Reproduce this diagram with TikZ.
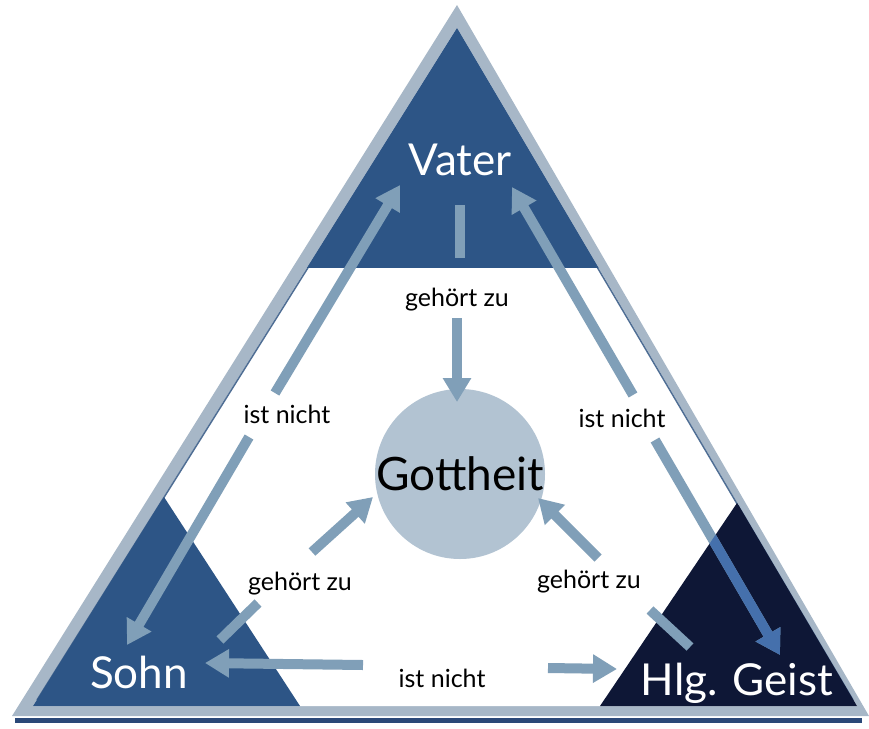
\documentclass[tikz,border=0pt]{standalone}
\usepackage{fontspec}
\setmainfont{Lato}
\usetikzlibrary{arrows.meta}
\definecolor{band}{HTML}{A7B7C7}
\definecolor{bandedge}{HTML}{4F6E94}
\definecolor{darkblue}{HTML}{2D5586}
\definecolor{navy}{HTML}{0E1736}
\definecolor{circ}{HTML}{B2C3D2}
\definecolor{arrowc}{HTML}{809FB8}
\definecolor{arrowblue}{HTML}{4570AC}
\definecolor{shadowc}{HTML}{2A4878}
\begin{document}
\begin{tikzpicture}[x=1pt,y=-1pt,
  conn/.style={draw=arrowc, line width=10pt},
  tip/.style={-{Triangle[width=27pt,length=24pt]}},
  tipback/.style={{Triangle[width=27pt,length=24pt]}-},
  title/.style={text=white, font=\fontsize{44}{48}\selectfont, inner sep=0pt, anchor=base},
  lab/.style={font=\fontsize{25}{28}\selectfont, inner sep=0pt, text=black, anchor=base},
]
\useasboundingbox (0,0) rectangle (869,728);
% frame
\fill[shadowc] (15,718) rectangle (862,723);
\fill[band] (457,5) -- (12,716) -- (869,716) -- cycle;
\fill[white] (457,28) -- (33,706) -- (857,706) -- cycle;
\draw[bandedge, line width=1.5pt] (37,700) -- (457,30) -- (853,700);
% dark corner regions
\begin{scope}
  \clip (457,28) -- (33,706) -- (857,706) -- cycle;
  \fill[darkblue] (0,0) rectangle (869,268);
  \fill[darkblue] (20,706) -- (164,497) -- (300,706) -- cycle;
  \fill[navy] (600,706) -- (737,503) -- (880,706) -- cycle;
\end{scope}
% circle
\node[circle, fill=circ, minimum size=170pt, inner sep=0pt] (gott) at (460,474) {};
\node[font=\fontsize{46}{50}\selectfont, inner sep=0pt, anchor=base] (gtext) at (460,490) {Gottheit};
% titles
\node[title] (vater) at (460,175) {Vater};
\node[title] (sohn) at (139,688) {Sohn};
\node[title] (geist) at (737,695) {Hlg. Geist};
% labels
\node[lab] (gzV) at (457,306) {gehört zu};
\node[lab] (gzS) at (300,590) {gehört zu};
\node[lab] (gzG) at (589,588) {gehört zu};
\node[lab] (inL) at (287,423) {ist nicht};
\node[lab] (inR) at (622,427) {ist nicht};
\node[lab] (inB) at (442,687) {ist nicht};
% coordinates
\coordinate (v0) at (460,205); \coordinate (v1) at (460,258);
\coordinate (v2) at (457,318); \coordinate (gtop) at (457,402);
\coordinate (s0) at (220,640); \coordinate (s1) at (258,603);
\coordinate (s2) at (312,552); \coordinate (gleft) at (373,497);
\coordinate (h0) at (690,647); \coordinate (h1) at (650,610);
\coordinate (h2) at (598,558); \coordinate (gright) at (538,498);
\coordinate (vL) at (400,185); \coordinate (lA) at (275,393);
\coordinate (lB) at (249,437); \coordinate (sTop) at (127,645);
\coordinate (vR) at (512,187); \coordinate (rA) at (633,395);
\coordinate (rB) at (655,440); \coordinate (hTop) at (780,655);
\coordinate (sRight) at (205,663); \coordinate (bA) at (363,665);
\coordinate (bB) at (548,668); \coordinate (hLeft) at (617,669);
% gehört zu arrows
\draw[conn] (v0) -- (v1);
\draw[conn,tip] (v2) -- (gtop);
\draw[conn] (s0) -- (s1);
\draw[conn,tip] (s2) -- (gleft);
\draw[conn] (h0) -- (h1);
\draw[conn,tip] (h2) -- (gright);
% ist nicht arrows
\draw[conn,tipback] (vL) -- (lA);
\draw[conn,tip] (lB) -- (sTop);
\draw[conn,tipback] (vR) -- (rA);
\draw[conn,tip] (rB) -- (hTop);
\draw[conn,tipback] (sRight) -- (bA);
\draw[conn,tip] (bB) -- (hLeft);
\begin{scope}
  \clip (600,706) -- (737,503) -- (880,706) -- cycle;
  \draw[conn,tip,draw=arrowblue,fill=arrowblue] (rB) -- (hTop);
\end{scope}
\end{tikzpicture}
\end{document}
